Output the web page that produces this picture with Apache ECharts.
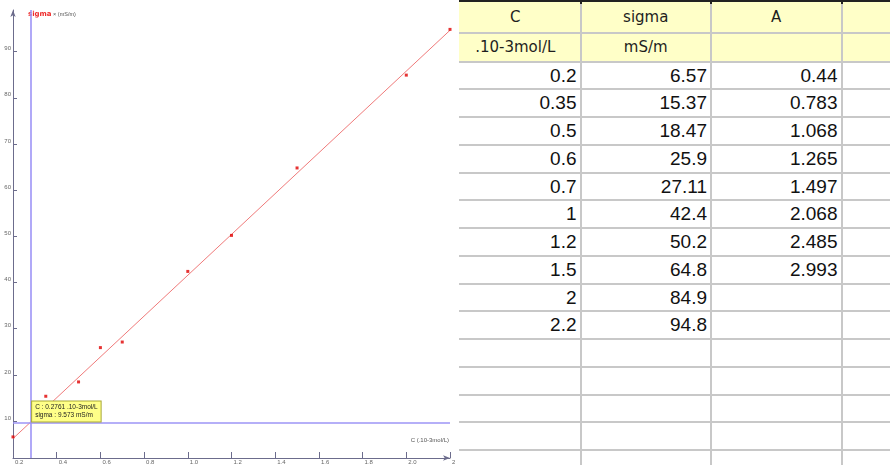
<!DOCTYPE html>
<html>
<head>
<meta charset="utf-8">
<title>sigma = f(C)</title>
<script src="https://cdn.jsdelivr.net/npm/echarts@6/dist/echarts.min.js"></script>
<style>
  html, body { margin: 0; padding: 0; background: #fff; }
  #wrap { position: relative; width: 890px; height: 465px; overflow: hidden; }
  #chart { position: absolute; left: 0; top: 0; width: 455px; height: 465px; }
  #sheet { position: absolute; left: 455px; top: 0; width: 435px; height: 465px; overflow: hidden; }
  #sheet div { position: absolute; box-sizing: border-box; }
  .txt { white-space: nowrap; overflow: hidden; }
  .head { font-family: "DejaVu Sans", sans-serif; font-size: 15px; color: #1e1e1e; text-align: center; }
  .num { font-family: "Liberation Sans", Arial, sans-serif; font-size: 19px; color: #111; text-align: right; padding-right: 3px; }
</style>
</head>
<body>
<div id="wrap">
  <div id="chart"></div>
  <div id="sheet"></div>
</div>
<script>
// Measurements: concentration C (.10-3 mol/L), conductivity sigma (mS/m), absorbance A
const C = [0.2, 0.35, 0.5, 0.6, 0.7, 1, 1.2, 1.5, 2, 2.2];
const sigma = [6.57, 15.37, 18.47, 25.9, 27.11, 42.4, 50.2, 64.8, 84.9, 94.8];
const A = [0.44, 0.783, 1.068, 1.265, 1.497, 2.068, 2.485, 2.993];

// Spreadsheet headers
const columnNames = ['C', 'sigma', 'A'];
const columnUnits = ['.10-3mol/L', 'mS/m', ''];

// Axis ticks
const yTicks = [10, 20, 30, 40, 50, 60, 70, 80, 90];

// Fitted straight line (end points) and the reading cursor
const fitLine = [[0.2, 6.21], [2.2, 94.61]];
const cursorC = 0.2761;
const cursorSigma = 9.573;

// ---------- graph ----------
const chart = echarts.init(document.getElementById('chart'), null, { renderer: 'canvas' });
const AXIS = '#6c6c8c';
const SMALL = 'Liberation Sans';

chart.setOption({
  animation: false,
  backgroundColor: '#ffffff',
  grid: { left: 13, right: 5, top: 10, bottom: 7, containLabel: false, outerBoundsMode: 'none' },
  xAxis: {
    type: 'value',
    min: 0.2, max: 2.2, interval: 0.2,
    name: 'C (.10-3mol/L)',
    nameLocation: 'end',
    nameGap: -1,
    nameTextStyle: {
      fontFamily: SMALL, fontSize: 6, color: '#555',
      align: 'right', verticalAlign: 'bottom', padding: [0, 0, 15, 0]
    },
    axisLine: { lineStyle: { color: AXIS, width: 1 }, symbol: ['none', 'arrow'], symbolSize: [4, 7] },
    axisTick: { inside: true, length: 6, lineStyle: { color: AXIS } },
    axisLabel: {
      align: 'left', margin: 1, padding: [0, 0, 0, 2],
      fontFamily: SMALL, fontSize: 6, color: '#666',
      formatter: v => v.toFixed(1)
    },
    splitLine: { show: false }
  },
  yAxis: {
    type: 'value',
    min: 2, max: 99,
    name: '{s|sigma}{u| \u00d7 (mS/m)}',
    nameLocation: 'end',
    nameGap: -4,
    nameTextStyle: {
      align: 'left', verticalAlign: 'middle', padding: [0, 0, 0, 15],
      rich: {
        s: { fontFamily: 'DejaVu Sans', fontWeight: 'bold', fontSize: 7, color: '#ee2a2a' },
        u: { fontFamily: SMALL, fontSize: 5.5, color: '#555' }
      }
    },
    axisLine: { show: true, lineStyle: { color: AXIS, width: 1 }, symbol: ['none', 'arrow'], symbolSize: [4, 7] },
    axisTick: { show: true, inside: true, length: 4, customValues: yTicks, lineStyle: { color: AXIS } },
    axisLabel: {
      customValues: yTicks, margin: 2, verticalAlign: 'bottom',
      fontFamily: SMALL, fontSize: 6, color: '#666'
    },
    splitLine: { show: false }
  },
  series: [
    {
      name: 'fit',
      type: 'line',
      data: fitLine,
      symbol: 'none',
      silent: true,
      lineStyle: { color: '#f07a7a', width: 1 },
      z: 3
    },
    {
      name: 'sigma',
      type: 'scatter',
      data: C.map((c, i) => [c, sigma[i]]),
      symbol: 'rect',
      symbolSize: 3,
      itemStyle: { color: '#e00000' },
      z: 4,
      markLine: {
        silent: true,
        symbol: 'none',
        label: { show: false },
        lineStyle: { color: '#9d94f6', width: 1.6, type: 'solid' },
        data: [{ xAxis: cursorC }, { yAxis: cursorSigma }]
      },
      markPoint: {
        silent: true,
        symbol: 'rect',
        symbolSize: 1,
        itemStyle: { color: 'rgba(0,0,0,0)' },
        label: {
          show: true,
          position: [3, -1],
          align: 'left',
          verticalAlign: 'bottom',
          fontFamily: SMALL,
          fontSize: 6.5,
          lineHeight: 8,
          color: '#222',
          backgroundColor: '#ffff88',
          borderColor: '#a9a935',
          borderWidth: 1,
          padding: [2, 3, 2, 3],
          formatter: () => 'C : ' + cursorC + ' .10-3mol/L\nsigma : ' + cursorSigma + ' mS/m'
        },
        data: [{ coord: [cursorC, cursorSigma] }]
      }
    }
  ]
});

// ---------- spreadsheet ----------
const sheet = document.getElementById('sheet');
const colRight = [125.5, 256, 386.5, 517];   // right edge of each column
const colWidth = 130.5;
const headTop = [2, 33];
const headBottom = [33, 61.5];
const rowTop = 61.5, rowH = 27.75, nRows = 15;
const tableLeft = 4;

function box(x, y, w, h, css, cls, text) {
  const d = document.createElement('div');
  d.style.left = x + 'px'; d.style.top = y + 'px';
  d.style.width = w + 'px'; d.style.height = h + 'px';
  if (css) Object.assign(d.style, css);
  if (cls) d.className = cls;
  if (text !== undefined) { d.textContent = text; d.style.lineHeight = h + 'px'; }
  sheet.appendChild(d);
  return d;
}

// header background
box(tableLeft, 2, 435 - tableLeft, 59.5, { background: '#ffffc8' });

// horizontal grid lines
const hLines = [33, 61.5];
for (let i = 1; i <= nRows; i++) hLines.push(rowTop + rowH * i);
hLines.forEach(y => box(tableLeft, y - 1, 435 - tableLeft, 2, { background: '#c8c8c8' }));

// vertical grid lines
colRight.slice(0, 3).forEach(x => {
  box(x - 1, 0, 2, 465, { background: '#c8c8c8' });
  box(x - 1, 0, 2, 4, { background: '#222' });
});
// top border
box(tableLeft, 0, 435 - tableLeft, 2, { background: '#222' });

// header text
for (let c = 0; c < 3; c++) {
  const x = colRight[c] - colWidth;
  box(x, headTop[0], colWidth, headBottom[0] - headTop[0], null, 'txt head', columnNames[c]);
  box(x, headTop[1], colWidth, headBottom[1] - headTop[1], null, 'txt head', columnUnits[c]);
}

// values
const columns = [C, sigma, A];
columns.forEach((vals, c) => {
  vals.forEach((v, r) => {
    const x = colRight[c] - colWidth;
    box(x, rowTop + rowH * r, colWidth - 1, rowH, null, 'txt num', String(v));
  });
});
</script>
</body>
</html>
